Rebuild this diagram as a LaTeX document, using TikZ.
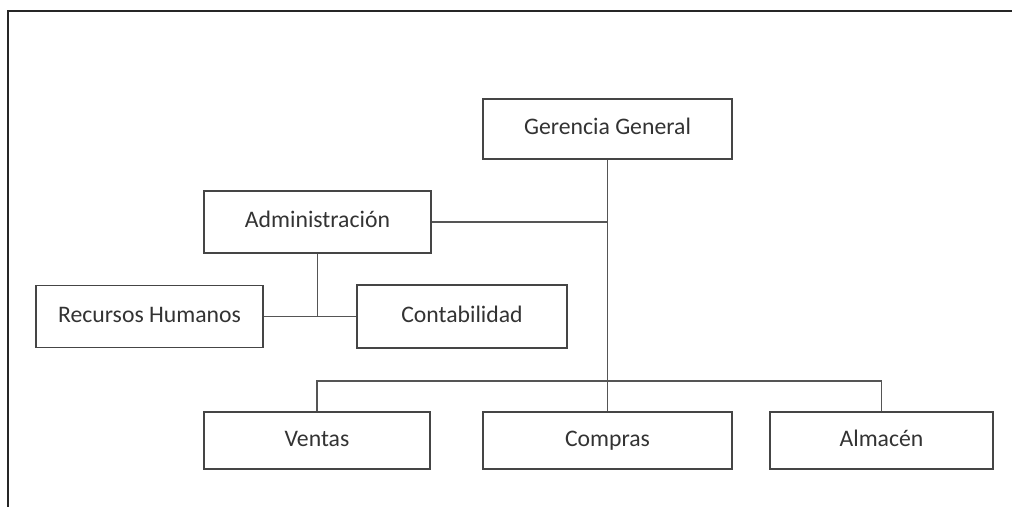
\documentclass[tikz,border=0pt]{standalone}
\usepackage{fontspec}
\setmainfont{Carlito}
\usepackage{tikz}
\usetikzlibrary{positioning,calc}
\definecolor{boxgray}{HTML}{454545}
\definecolor{linegray}{HTML}{555555}
\definecolor{textgray}{HTML}{333333}
\tikzset{
    unit/.style = {
        draw=boxgray,
        shape=rectangle,
        line width=1.1pt,
        text=textgray,
        font=\fontsize{13.5}{16}\selectfont,
        text height=0.84em,
        text depth=0.2em,
        inner sep=0pt
    },
    wide/.style = {
        unit,
        minimum width=4.98cm,
        minimum height=1.2cm
    },
    mid/.style = {
        unit,
        minimum width=4.54cm,
        minimum height=1.24cm
    },
    low/.style = {
        unit,
        minimum height=1.14cm
    },
    link/.style = {
        draw=linegray,
        line width=0.85pt
    },
}
\begin{document}
\begin{tikzpicture}[x=0.02cm,y=-0.02cm]
                \useasboundingbox (0,0) rectangle (1012,507);
                \draw[line width=1.2pt, color=black!85] (8,507) -- (8,11) -- (1012,11);

                \node[wide] (gg) at (607.5,129) {Gerencia General};
                \node[mid] (adm) at (317.5,222) {Administración};
                \node[mid] (rh) at (149.5,316.5) {Recursos Humanos};
                \node[unit, minimum width=4.2cm, minimum height=1.26cm] (cont) at (462,316.5) {Contabilidad};
                \node[low, minimum width=4.52cm] (ven) at (317,440.5) {Ventas};
                \node[low, minimum width=4.98cm] (comp) at (607.5,440.5) {Compras};
                \node[low, minimum width=4.46cm] (alm) at (881.5,440.5) {Almacén};
                \coordinate (bus) at (607.5,381);

                \path[link] (gg) -- (comp);
                \path[link] (adm) -- (adm -| gg);
                \path[link] (adm) -- (adm |- rh);
                \path[link] (rh) -- (cont);
                \path[link] (ven) |- (bus) -| (alm);
\end{tikzpicture}
\end{document}
